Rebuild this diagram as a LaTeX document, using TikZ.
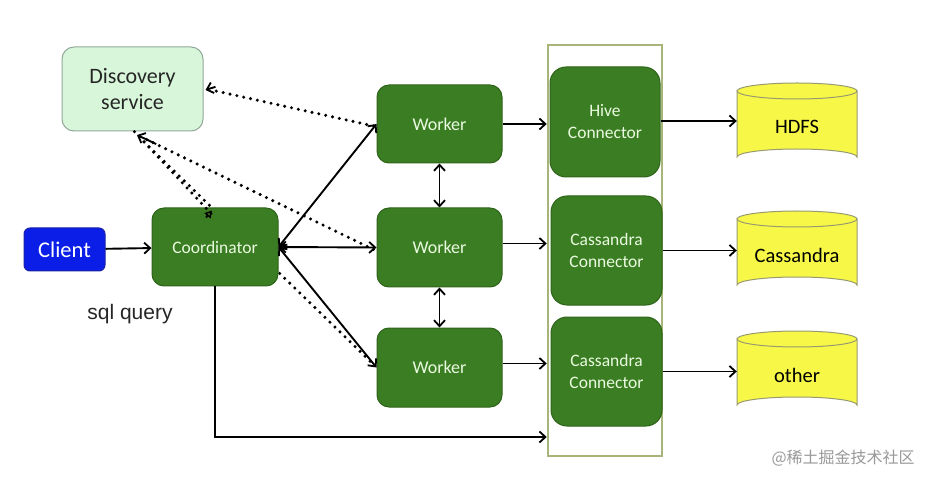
\documentclass[tikz,border=0pt]{standalone}
\usepackage{fontspec}
\setmainfont{Carlito}
\newfontfamily\cjk{Noto Sans CJK SC}
\newfontfamily\arialf{Liberation Sans}
\usetikzlibrary{arrows.meta,backgrounds,calc}
\definecolor{gbox}{HTML}{3B7D23}
\definecolor{gborder}{HTML}{2E6419}
\definecolor{gtext}{HTML}{EAFBE0}
\definecolor{dfill}{HTML}{D8F7DA}
\definecolor{dborder}{HTML}{93A89A}
\definecolor{cfill}{HTML}{0A1EE8}
\definecolor{cborder}{HTML}{1A22A8}
\definecolor{frame}{HTML}{A7B57A}
\definecolor{yfill}{HTML}{F7F748}
\definecolor{yborder}{HTML}{9A9A70}
\tikzset{
  x=1pt,y=-1pt,
  barb/.tip={Straight Barb[length=6pt,width=11pt,line width=1.8pt]},
  tip/.style={-barb},
  dtip/.style={barb-barb},
  conn/.style={line width=1.9pt},
  dots/.style={line width=3.4pt, dash pattern=on 0pt off 7pt, line cap=round},
  greenbox/.style={draw=gborder, line width=1pt, fill=gbox, rounded corners=12pt, text=gtext, font=\fontsize{18}{21}\selectfont, align=center, inner sep=0pt},
  connbox/.style={greenbox, rounded corners=16pt, font=\fontsize{17.5}{22}\selectfont},
  dbnode/.style={inner sep=0pt, font=\fontsize{20.5}{24}\selectfont, text=black},
}
\newcommand{\cyl}[3]{% name, center y, text
  \begin{scope}[on background layer]
  \fill[yfill] (737,#2-33) -- (737,#2+33) arc[start angle=180,end angle=360,x radius=60pt,y radius=-8pt] -- (857,#2-33) -- cycle;
  \end{scope}
  \draw[yborder, line width=1pt] (737,#2-33) -- (737,#2+33) arc[start angle=180,end angle=360,x radius=60pt,y radius=-8pt] -- (857,#2-33);
  \draw[yborder, line width=1pt, fill=yfill] (797,#2-33) ellipse[x radius=60pt,y radius=8pt];
  \node[dbnode, minimum width=120pt, minimum height=82pt] (#1) at (797,#2+3) {#3};
}
\begin{document}
\begin{tikzpicture}
\begin{scope}[on background layer]
\fill[white] (0,0) rectangle (942,478);
\end{scope}
\useasboundingbox (0,0) rectangle (942,478);

% outer frame
\node[draw=frame, line width=2.5pt, minimum width=114pt, minimum height=411pt, inner sep=0pt] (frame) at (605,250.5) {};

% nodes
\node[draw=dborder, line width=1pt, fill=dfill, rounded corners=12pt, minimum width=141pt, minimum height=84pt, align=center, font=\fontsize{22}{26}\selectfont, text=black!85] (disc) at (132.5,89) {Discovery\\service};
\node[draw=cborder, line width=1pt, fill=cfill, rounded corners=6pt, minimum width=81pt, minimum height=43pt, text=white, font=\fontsize{22.5}{26}\selectfont] (client) at (64.5,249.5) {Client};

% dotted line to worker 3 passes behind the coordinator
\coordinate (dS) at (137,135);
\coordinate (w3d) at (372,363);
\draw[dots] ($(dS)!0.03!(w3d)$) -- (w3d);

\node[greenbox, minimum width=126pt, minimum height=78pt, font=\fontsize{17.5}{21}\selectfont] (coord) at (215,247) {Coordinator};
\node[font=\arialf\fontsize{21}{24}\selectfont, text=black!85] (sql) at (130,314) {sql query};

\node[greenbox, minimum width=125pt, minimum height=78pt] (w1) at (439.5,124) {Worker};
\node[greenbox, minimum width=125pt, minimum height=79pt] (w2) at (439.5,247.5) {Worker};
\node[greenbox, minimum width=125pt, minimum height=79pt] (w3) at (439.5,367.5) {Worker};

\node[connbox, minimum width=110pt, minimum height=110pt] (hive) at (605,122) {Hive\\Connector};
\node[connbox, minimum width=111pt, minimum height=109pt] (cas) at (606.5,250.5) {Cassandra\\Connector};
\node[connbox, minimum width=111pt, minimum height=109pt] (oth) at (606.5,371.5) {Cassandra\\Connector};

% cylinders
\cyl{hdfs}{124}{HDFS}
\cyl{cass}{252}{Cassandra}
\cyl{other}{372}{other}

% dotted lines to discovery
\draw[dots] ([xshift=-3pt,yshift=-2pt]w1.west) -- ([xshift=8pt,yshift=-1pt]disc.east);
\draw[conn,tip] ([xshift=12pt,yshift=2.2pt]disc.east) -- ([xshift=2pt,yshift=-1pt]disc.east);
\draw[dots] ([xshift=-3pt,yshift=-2pt]w2.west) -- ($(dS)!0.04!(w2.west)$);
\draw[dots] ([xshift=-4pt,yshift=-6pt]coord.north) -- ([xshift=-2pt,yshift=4pt]disc.south);
\draw[conn,tip] ($(dS)!0.08!(w2.west)$) -- (dS);
\draw[conn,-{Triangle[open,length=7pt,width=8pt,line width=1.4pt]}] ([xshift=-9pt,yshift=-10pt]coord.north) -- ([xshift=-3pt,yshift=-3pt]coord.north);

% solid connectors
\draw[conn,tip] (client) -- (coord);
\draw[conn,dtip] (coord.east) -- (w1.west);
\draw[conn,dtip] (coord.east) -- (w2.west);
\draw[conn,dtip] (coord.east) -- (w3.west);
\draw[conn,dtip] (w1) -- (w2);
\draw[conn,dtip] (w2) -- (w3);
\draw[conn,tip] (w1.east) -- (w1.east -| frame.west);
\draw[conn,tip] ([yshift=4pt]w2.east) -- ([yshift=4pt]w2.east -| frame.west);
\draw[conn,tip] ([yshift=4pt]w3.east) -- ([yshift=4pt]w3.east -| frame.west);
\coordinate (cb) at (coord.south |- 0,437);
\draw[conn,tip] (coord.south) -- (cb) -- (cb -| frame.west);
\draw[conn,tip] ([yshift=1pt]hive.east) -- ([yshift=1pt]hive.east -| hdfs.west);
\draw[conn,tip] (cas.east) -- (cas.east -| cass.west);
\draw[conn,tip] (oth.east) -- (oth.east -| other.west);

% watermark
\node[text=black!40, font=\cjk\fontsize{16}{18}\selectfont, anchor=west] (wm) at (768,458) {@稀土掘金技术社区};
\end{tikzpicture}
\end{document}
